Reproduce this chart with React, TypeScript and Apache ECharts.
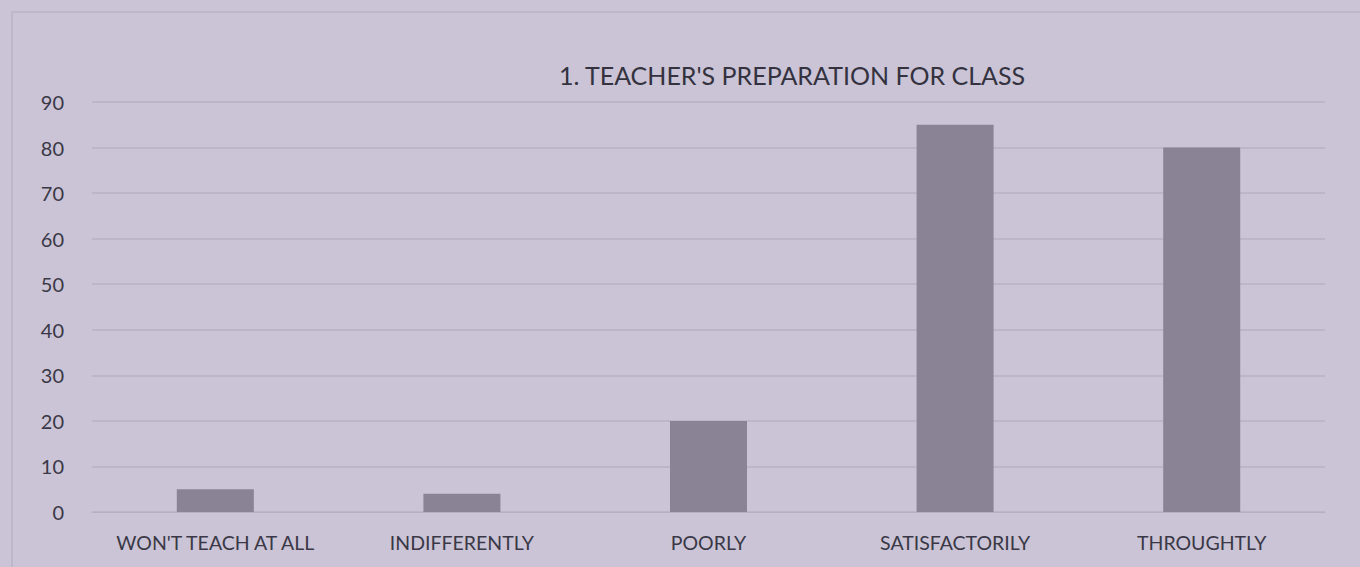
import React, { useEffect, useRef } from "react";
import * as echarts from "echarts";

const categories = ["WON'T TEACH AT ALL", "INDIFFERENTLY", "POORLY", "SATISFACTORILY", "THROUGHTLY"];
const values = [5, 4, 20, 85, 80];
const titleText = "1. TEACHER'S PREPARATION FOR CLASS";

export default function App() {
  const ref = useRef<HTMLDivElement>(null);
  useEffect(() => {
    if (!ref.current) return;
    const chart = echarts.init(ref.current, null, { renderer: "svg" });
    chart.setOption({
      animation: false,
      backgroundColor: "#cac4d6",
      title: {
        text: titleText,
        left: 787,
        top: 57,
        textAlign: "center",
        textStyle: { fontFamily: "Lato", fontSize: 25, fontWeight: "normal", color: "#34323f" },
      },
      graphic: [
        {
          type: "rect",
          shape: { x: 12, y: 12, width: 1400, height: 600 },
          style: { fill: "none", stroke: "#bdb7ca", lineWidth: 2 },
        },
      ],
      grid: { left: 92, right: 35, top: 102, bottom: 55 },
      xAxis: {
        type: "category",
        data: categories,
        axisLine: { show: true, lineStyle: { color: "#b5afc2" } },
        axisTick: { show: false },
        axisLabel: { interval: 0, fontFamily: "Lato", fontSize: 19.5, color: "#3a3846", margin: 20 },
      },
      yAxis: {
        type: "value",
        min: 0,
        max: 90,
        interval: 10,
        axisLine: { show: false },
        axisTick: { show: false },
        splitLine: { lineStyle: { color: "#b8b2c6", width: 1.5 } },
        axisLabel: { fontFamily: "Lato", fontSize: 20, color: "#3a3846", margin: 28 },
      },
      series: [
        {
          type: "bar",
          data: values,
          barWidth: 77,
          itemStyle: { color: "#8a8295" },
        },
      ],
    });
    return () => chart.dispose();
  }, []);
  return <div ref={ref} style={{ position: "fixed", left: 0, top: 0, width: 1360, height: 567 }} />;
}
